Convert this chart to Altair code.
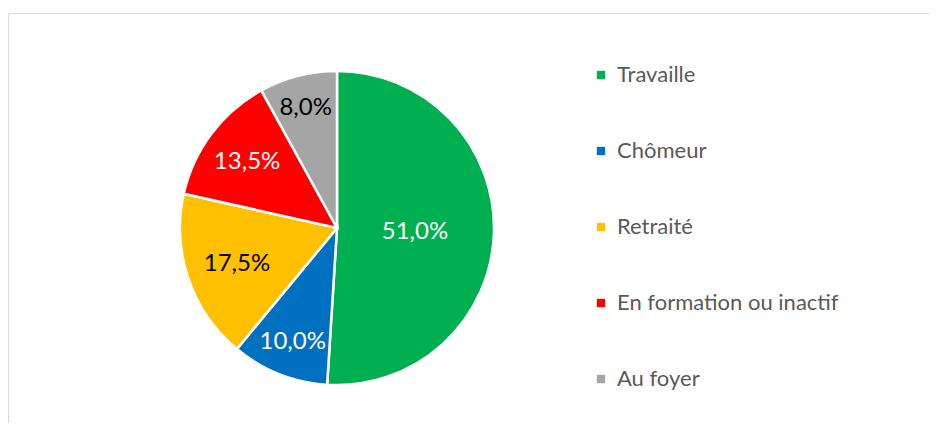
import altair as alt
import pandas as pd

categories = ["Travaille", "Chômeur", "Retraité", "En formation ou inactif", "Au foyer"]
shares = [51.0, 10.0, 17.5, 13.5, 8.0]
colors = ["#00B050", "#0070C0", "#FFC000", "#FF0000", "#A5A5A5"]
dark_label_categories = ["Retraité", "Au foyer"]

df = pd.DataFrame({
    "cat": categories,
    "value": shares,
    "idx": list(range(len(categories))),
    "label": [f"{v:.1f}%".replace(".", ",") for v in shares],
})

W, H = 921, 415
CX, CY, R = 329, 220, 157
FONT = "Lato"

border = alt.Chart(pd.DataFrame({"a": [0]})).mark_rect(
    fill="white", fillOpacity=0, stroke="#D9D9D9", strokeWidth=1
).encode(
    x=alt.value(0.5), x2=alt.value(2000), y=alt.value(5.5), y2=alt.value(2000)
)

base = alt.Chart(df).encode(
    theta=alt.Theta("value:Q", stack=True),
    order=alt.Order("idx:Q"),
    x=alt.value(CX),
    y=alt.value(CY),
)

arcs = base.mark_arc(radius=R, stroke="white", strokeWidth=2.5).encode(
    color=alt.Color(
        "cat:N",
        scale=alt.Scale(domain=categories, range=colors),
        sort=categories,
        legend=alt.Legend(
            title=None,
            orient="none",
            legendX=582,
            legendY=56,
            symbolType="square",
            symbolSize=70,
            symbolStrokeWidth=0,
            labelFont=FONT,
            labelFontSize=22,
            labelColor="#595959",
            labelOffset=5,
            rowPadding=54,
            labelLimit=400,
        ),
    )
)

labels = base.mark_text(font=FONT, fontSize=24, dy=2).encode(
    radius=alt.Radius(
        "value:Q",
        scale=alt.Scale(type="log", domain=[8, 51], range=[126, 78], zero=False),
    ),
    text="label:N",
    color=alt.condition(
        alt.FieldOneOfPredicate(field="cat", oneOf=dark_label_categories),
        alt.value("black"),
        alt.value("white"),
    ),
)

chart = alt.layer(border, arcs, labels).properties(
    width=W, height=H, padding=0, autosize="none"
).configure_view(stroke=None)

chart.save("out.html", embed_options={"renderer": "svg", "actions": False})
